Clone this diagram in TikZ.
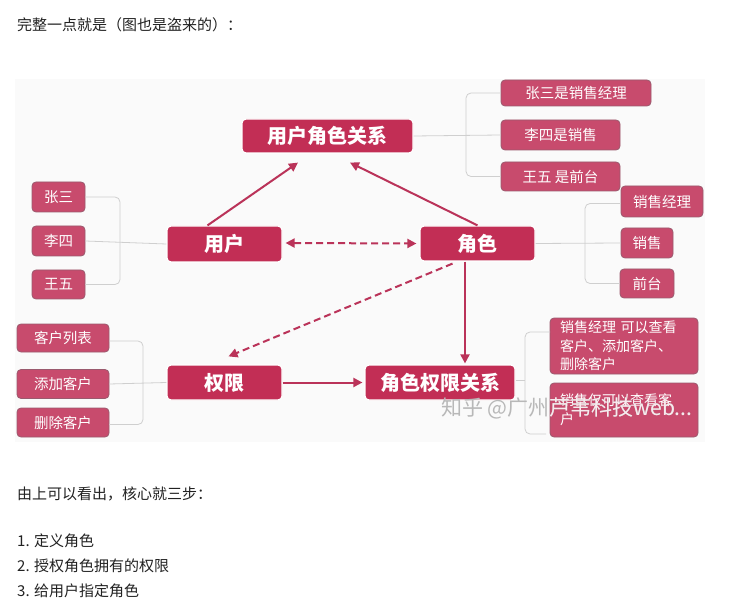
\documentclass[tikz,border=0pt]{standalone}
\usepackage{fontspec}
\newfontfamily\cjk{Noto Sans CJK SC}
\usetikzlibrary{arrows.meta,calc}
\definecolor{mainc}{HTML}{C22E55}
\definecolor{subc}{HTML}{C84B6D}
\definecolor{subedge}{HTML}{9A5A6E}
\definecolor{arrc}{HTML}{BA3359}
\definecolor{treec}{HTML}{CFCFCF}
\definecolor{txt}{HTML}{222222}
\definecolor{bgc}{HTML}{FAFAFA}
\begin{document}
\begin{tikzpicture}[x=1pt,y=-1pt,
 mainbox/.style={fill=mainc, draw=white, line width=1.2pt, rounded corners=4pt, text=white, font=\cjk\bfseries\fontsize{20}{20}\selectfont, inner sep=0pt},
 subbox/.style={fill=subc, draw=subedge, line width=0.8pt, rounded corners=4pt, text=white, font=\cjk\fontsize{14.5}{14.5}\selectfont, inner sep=0pt},
 tree/.style={draw=treec, line width=0.8pt, rounded corners=5pt},
 arr/.style={draw=arrc, line width=2pt, -{Triangle[length=9pt,width=9pt]}},
 darr/.style={arr, dash pattern=on 7pt off 4pt},
 plaintxt/.style={font=\cjk\fontsize{15}{15}\selectfont, text=txt, anchor=west, inner sep=0pt},
 wmark/.style={font=\cjk\fontsize{21}{21}\selectfont, anchor=west, inner sep=0pt}]
\fill[white] (0,0) rectangle (736,612);
\useasboundingbox (0,0) rectangle (736,612);
\fill[bgc] (15,79) rectangle (705,442);

% header and footer text
\node[plaintxt] (hdr) at (17,25) {完整一点就是（图也是盗来的）：};
\node[plaintxt] (f0) at (17,494) {由上可以看出，核心就三步：};
\node[plaintxt] (f1) at (17,541) {1. 定义角色};
\node[plaintxt] (f2) at (17,566) {2. 授权角色拥有的权限};
\node[plaintxt] (f3) at (17,591) {3. 给用户指定角色};

% main nodes
\node[mainbox, minimum width=171, minimum height=34] (urr) at (327.5,136) {用户角色关系};
\node[mainbox, minimum width=115, minimum height=36] (user) at (224.5,244) {用户};
\node[mainbox, minimum width=115, minimum height=35] (role) at (477.5,243.5) {角色};
\node[mainbox, minimum width=115, minimum height=35] (perm) at (224.5,382.5) {权限};
\node[mainbox, minimum width=150, minimum height=35] (rpr) at (440,382.5) {角色权限关系};

% sub nodes
\node[subbox, minimum width=53, minimum height=30] (zs) at (58.5,197) {张三};
\node[subbox, minimum width=53, minimum height=30] (ls) at (58.5,241) {李四};
\node[subbox, minimum width=53, minimum height=29] (ww) at (58.5,284.5) {王五};

\node[subbox, minimum width=150, minimum height=26] (r1) at (576,93) {张三是销售经理};
\node[subbox, minimum width=119, minimum height=30] (r2) at (560.5,135) {李四是销售};
\node[subbox, minimum width=119, minimum height=29] (r3) at (560.5,176.5) {王五 是前台};

\node[subbox, minimum width=82, minimum height=31] (s1) at (662,201.5) {销售经理};
\node[subbox, minimum width=52, minimum height=30] (s2) at (647,243) {销售};
\node[subbox, minimum width=54, minimum height=29] (s3) at (647,283.5) {前台};

\node[subbox, minimum width=92, minimum height=28] (p1) at (63,338) {客户列表};
\node[subbox, minimum width=92, minimum height=29] (p2) at (63,384) {添加客户};
\node[subbox, minimum width=92, minimum height=29] (p3) at (63,422.5) {删除客户};

\node[subbox, minimum width=148, minimum height=56, text width=128, align=left,
      font=\cjk\fontsize{14}{18.5}\selectfont] (q1) at (624,346)
      {销售经理 可以查看\\客户、添加客户、\\删除客户};
\node[subbox, minimum width=148, minimum height=54, text width=128, align=left,
      font=\cjk\fontsize{14}{19}\selectfont] (q2) at (624,410)
      {销售仅可以查看客\\户};

% tree connectors
\coordinate (bxa) at (466,136);
\draw[tree] (urr.east) -- (r2.west);
\draw[tree] (r1.west) -| (bxa) |- (r3.west);
\coordinate (bxu) at (120,241);
\draw[tree] (user.west) -- (ls.east);
\draw[tree] (zs.east) -| (bxu) |- (ww.east);
\coordinate (bxr) at (585,243);
\draw[tree] (role.east) -- (s2.west);
\draw[tree] ($(s1.west)+(0,2)$) -| (bxr) |- (s3.west);
\coordinate (bxp) at (143,383);
\draw[tree] (perm.west) -- (p2.east);
\draw[tree] ($(p1.east)+(0,3)$) -| (bxp) |- ($(p3.east)+(0,2)$);
\coordinate (bxq) at (525,380);
\coordinate (qt) at (550,332);
\coordinate (qb) at (546,434);
\draw[tree] (rpr.east |- bxq) -- (bxq);
\draw[tree] (qt) -| (bxq) |- (qb);

% arrows
\draw[arr] ($(user.north)+(-17,0)$) -- ($(urr.south)+(-29.5,9)$);
\draw[arr] (role.north) -- ($(urr.south)+(22.5,9)$);
\draw[darr, {Triangle[length=9pt,width=9pt]}-{Triangle[length=9pt,width=9pt]}] ($(user.east)+(3,-1)$) -- ($(role.west)+(-3,0)$);
\draw[darr] ($(role.south)+(-25,2)$) -- ($(perm.north)+(4,-8)$);
\draw[arr] ($(role.south)+(-12.5,0)$) -- ($(rpr.north)+(25,-1)$);
\draw[arr] (perm.east) -- ($(rpr.west)+(-2,0)$);

% watermark
\node[wmark, text=black!28] (wm) at (441,408) {知乎 @广州芦苇科技web...};
\begin{scope}
\clip[rounded corners=4pt] (q2.south west) rectangle (q2.north east);
\node[wmark, text=white!88!subc] (wm2) at (441,408) {知乎 @广州芦苇科技web...};
\end{scope}
\end{tikzpicture}
\end{document}
